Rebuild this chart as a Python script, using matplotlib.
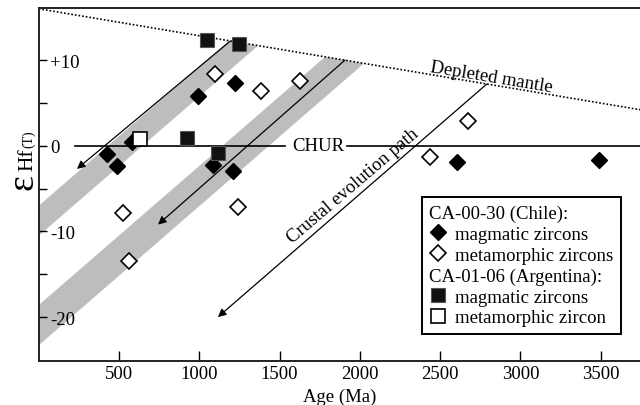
import numpy as np
import matplotlib
matplotlib.use("Agg")
import matplotlib.pyplot as plt
from matplotlib.lines import Line2D

plt.rcParams['font.family'] = ['Liberation Serif', 'DejaVu Serif']
plt.rcParams['font.size'] = 13.5

# CA-00-30 (Chile)
chile_mag_age = [423, 486, 579, 990, 1222, 1083, 1212, 2603, 3489]
chile_mag_eps = [-1.0, -2.4, 0.4, 5.8, 7.3, -2.3, -2.9, -1.9, -1.6]
chile_met_age = [1098, 1385, 1627, 2675, 2437, 527, 564, 1243]
chile_met_eps = [8.4, 6.35, 7.6, 2.9, -1.3, -7.8, -13.5, -7.2]
# CA-01-06 (Argentina)
arg_mag_age = [1046, 1249, 922, 1115]
arg_mag_eps = [12.3, 11.9, 0.9, -0.85]
arg_met_age = [631]
arg_met_eps = [0.8]

# depleted mantle line (age, eps)
dm_age = [0, 3750]
dm_eps = [16.0, 4.2]
# crustal evolution slope (eps per Ma) and grey bands (eps at 0 Ma)
crust_slope = 0.01625
band_upper = [-7.0, -18.6]
band_lower = [-10.5, -23.3]
# evolution arrows: start on the mantle line, end at arrow head
arrow_start = [(1191, 12.2), (1907, 10.0), (2790, 7.2)]
arrow_end = [(238, -2.7), (743, -9.2), (1116, -20.0)]

x_ticks = [500, 1000, 1500, 2000, 2500, 3000, 3500]
y_ticks = [-20, -10, 0, 10]
y_ticklabels = ['-20', '-10', '0', '+10']

legend_labels = ['CA-00-30 (Chile):', 'magmatic zircons', 'metamorphic zircons',
                 'CA-01-06 (Argentina):', 'magmatic zircons', 'metamorphic zircon']


def dm(t):
    slope = (dm_eps[1] - dm_eps[0]) / (dm_age[1] - dm_age[0])
    return dm_eps[0] + slope * np.asarray(t)


fig = plt.figure(figsize=(6.4, 4.06), dpi=100)
ax = fig.add_axes([0.0605, 0.109, 0.9395, 0.869])
ax.set_xlim(0, 3745)
ax.set_ylim(-25.1, 16.1)

# grey bands, cut at the depleted mantle line
dm_slope = (dm_eps[0] - dm_eps[1]) / (dm_age[1] - dm_age[0])
for up, lo in zip(band_upper, band_lower):
    t_up = (dm_eps[0] - up) / (crust_slope + dm_slope)
    t_lo = (dm_eps[0] - lo) / (crust_slope + dm_slope)
    ax.fill([0, t_up, t_lo, 0], [up, dm(t_up), dm(t_lo), lo],
            color='#bdbdbd', lw=0, zorder=1)

# depleted mantle
ax.plot(dm_age, dm_eps, color='black', lw=1.2, ls=(0, (1, 1.2)), zorder=2)
ax.text(2817, 8.1, 'Depleted mantle', rotation=-9.5, rotation_mode='anchor',
        ha='center', va='center')

# CHUR
ax.plot([226, 1534], [0, 0], color='black', lw=1.2, zorder=2)
ax.plot([1918, 3745], [0, 0], color='black', lw=1.2, zorder=2)
ax.text(1741, 0, 'CHUR', ha='center', va='center')

# arrows
for (x0, y0), (x1, y1) in zip(arrow_start, arrow_end):
    ax.annotate('', xy=(x1, y1), xytext=(x0, y0),
                arrowprops=dict(arrowstyle='-|>', color='black', lw=0.9,
                                shrinkA=0, shrinkB=0, mutation_scale=12),
                zorder=3)
ax.text(1960, -4.65, 'Crustal evolution path', rotation=40.5,
        rotation_mode='anchor', ha='center', va='center')

# data points
ms_d, ms_s = 8.3, 10.5
ax.plot(chile_mag_age, chile_mag_eps, 'D', ms=ms_d, mfc='black', mec='black', zorder=4)
ax.plot(chile_met_age, chile_met_eps, 'D', ms=ms_d, mfc='white', mec='black', mew=1.2, zorder=4)
ax.plot(arg_mag_age, arg_mag_eps, 's', ms=ms_s, mfc='#111111', mec='#555555', mew=0.8, zorder=4)
ax.plot(arg_met_age, arg_met_eps, 's', ms=ms_s, mfc='white', mec='black', mew=1.2, zorder=4)

# axes styling
for side in ['left', 'bottom', 'top']:
    ax.spines[side].set_linewidth(1.4)
    ax.spines[side].set_color('#222222')
ax.spines['right'].set_visible(False)

ax.set_xticks(x_ticks)
ax.tick_params(axis='x', direction='in', length=7, width=1, pad=3, top=False)
ax.set_yticks(y_ticks)
ax.set_yticklabels(y_ticklabels)
ax.set_yticks([-15, -5, 5], minor=True)
ax.tick_params(axis='y', which='both', direction='in', length=6, width=1, pad=-8, right=False)
for lbl in ax.get_yticklabels():
    lbl.set_ha('left')

ax.set_xlabel('Age (Ma)', labelpad=4)

# y label: big epsilon with Hf(T)
fig.text(32 / 640, 1 - 190 / 406, '\u03b5', fontsize=27, rotation=90,
         rotation_mode='anchor', ha='left', va='baseline')
fig.text(32 / 640, 1 - 171 / 406, 'Hf', fontsize=15.5, rotation=90,
         rotation_mode='anchor', ha='left', va='baseline')
fig.text(32 / 640, 1 - 148 / 406, '(T)', fontsize=10, rotation=90,
         rotation_mode='anchor', ha='left', va='baseline')

# legend with two group headers
handles = [
    Line2D([], [], ls='none'),
    Line2D([], [], marker='D', ls='none', ms=ms_d, mfc='black', mec='black'),
    Line2D([], [], marker='D', ls='none', ms=ms_d, mfc='white', mec='black', mew=1.2),
    Line2D([], [], ls='none'),
    Line2D([], [], marker='s', ls='none', ms=ms_s, mfc='#111111', mec='#555555', mew=0.8),
    Line2D([], [], marker='s', ls='none', ms=ms_s, mfc='white', mec='black', mew=1.2),
]
leg = ax.legend(handles, legend_labels, loc='upper right', bbox_to_anchor=(0.9686, 0.464),
                borderaxespad=0, fancybox=False, edgecolor='black', framealpha=1,
                handlelength=1.0, handletextpad=0.4, labelspacing=0.2, borderpad=0.4)
leg.get_frame().set_linewidth(1.4)
rows = leg._legend_handle_box.get_children()[0].get_children()
for i in (0, 3):
    rows[i].get_children()[0].width = 0
    rows[i].sep = 0

fig.savefig('out.png', dpi=100)
